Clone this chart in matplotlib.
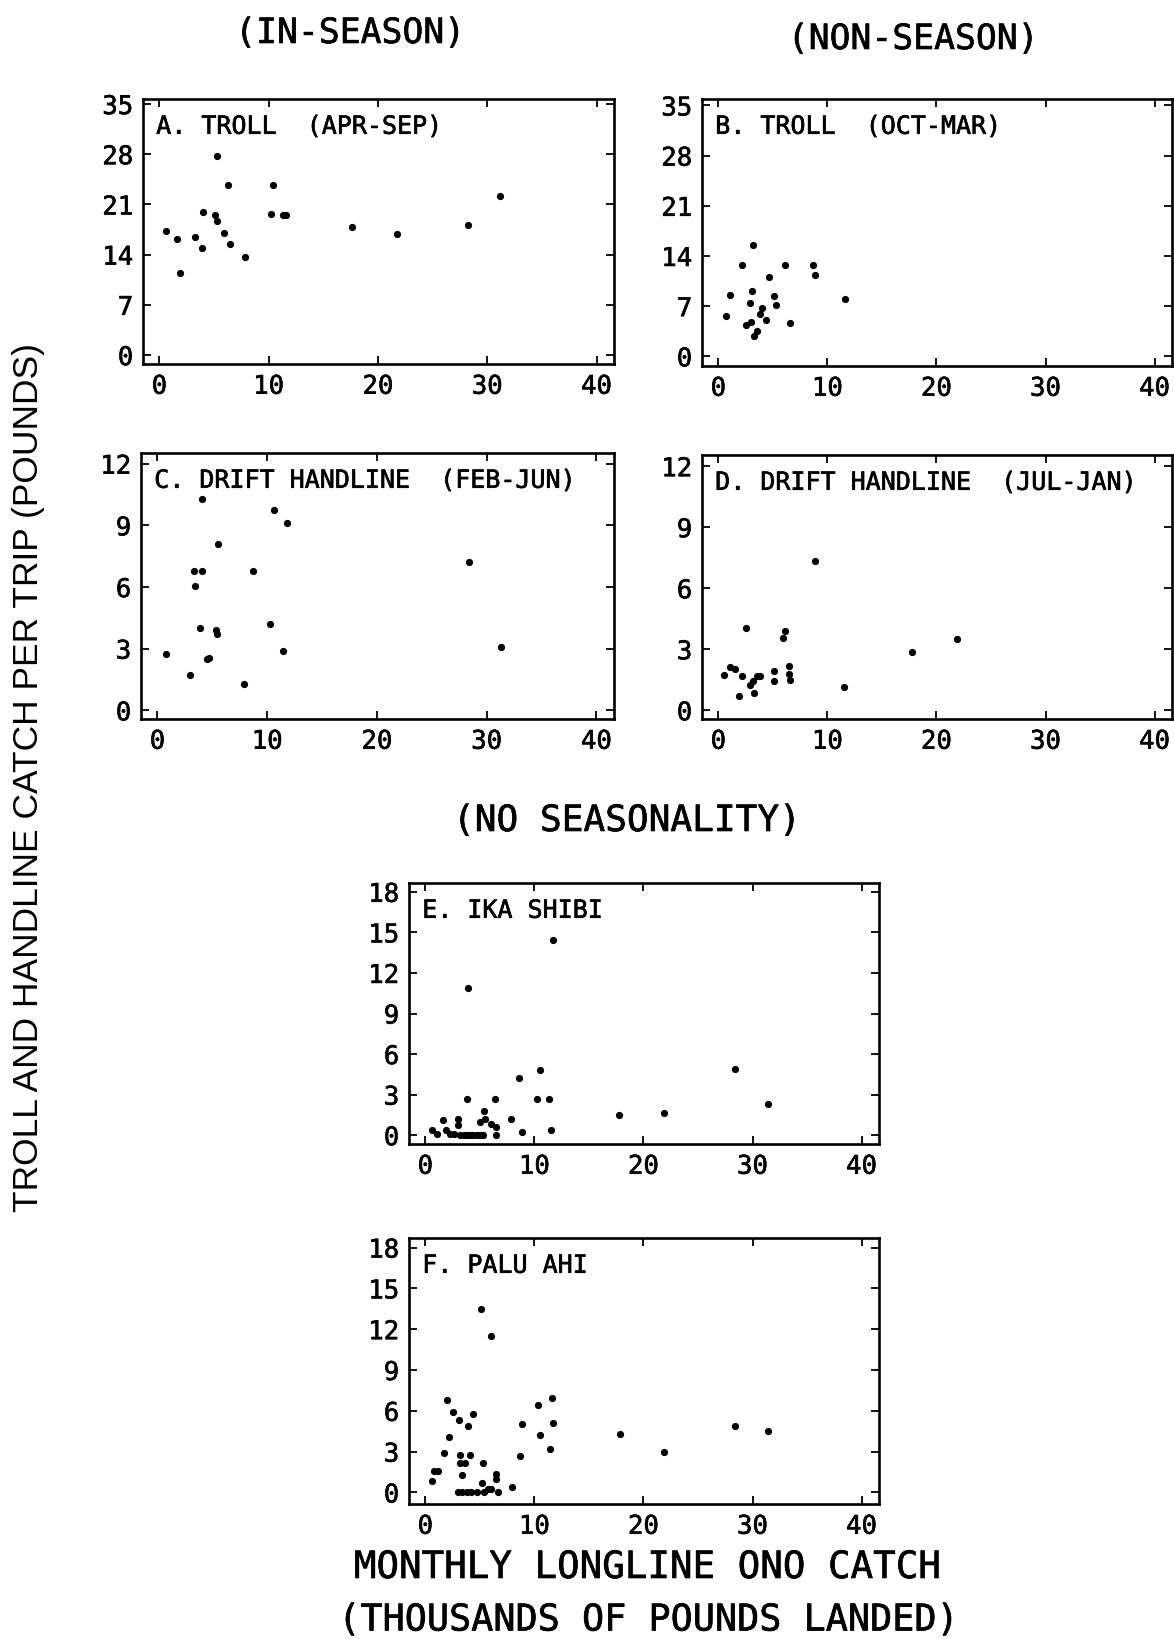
import matplotlib
matplotlib.use("Agg")
import matplotlib.pyplot as plt
import matplotlib.patheffects as pe

# ---------------- data (thousands of lb longline ONO catch, catch per trip lb) ----------------
a_x = [0.6, 1.6, 1.9, 3.3, 3.9, 4.0, 5.1, 5.3, 5.3, 5.9, 6.3, 6.5, 7.8, 10.2, 10.4, 11.3, 11.6, 17.6, 21.7, 28.2, 31.2]
a_y = [17.3, 16.2, 11.5, 16.4, 14.9, 19.9, 19.5, 27.7, 18.7, 17.0, 23.7, 15.5, 13.7, 19.6, 23.7, 19.5, 19.5, 17.9, 16.9, 18.2, 22.2]

b_x = [0.7, 1.1, 2.2, 2.5, 2.9, 3.0, 3.1, 3.2, 3.3, 3.5, 3.8, 4.0, 4.4, 4.6, 5.1, 5.3, 6.1, 6.6, 8.7, 8.9, 11.6]
b_y = [5.6, 8.6, 12.8, 4.4, 7.5, 4.8, 9.1, 15.6, 2.9, 3.6, 5.9, 6.8, 5.0, 11.1, 8.4, 7.1, 12.8, 4.7, 12.8, 11.3, 8.0]

c_x = [0.8, 3.0, 3.3, 3.4, 3.9, 4.1, 4.1, 4.5, 4.7, 5.3, 5.4, 5.5, 7.9, 8.7, 10.3, 10.6, 11.4, 11.8, 28.4, 31.3]
c_y = [2.76, 1.7, 6.8, 6.05, 4.0, 6.8, 10.3, 2.5, 2.53, 3.9, 3.7, 8.1, 1.3, 6.8, 4.2, 9.75, 2.9, 9.1, 7.2, 3.06]

d_x = [0.55, 1.1, 1.5, 1.9, 2.15, 2.5, 2.9, 3.2, 3.3, 3.5, 3.85, 5.1, 5.1, 5.9, 6.1, 6.5, 6.5, 6.6, 8.9, 11.5, 17.8, 21.9]
d_y = [1.73, 2.14, 2.03, 0.69, 1.7, 4.05, 1.24, 1.45, 0.87, 1.7, 1.66, 1.94, 1.45, 3.54, 3.89, 2.16, 1.78, 1.5, 7.35, 1.15, 2.85, 3.48]

e_x = [0.6, 1.1, 1.6, 1.9, 2.3, 2.6, 3.0, 3.0, 3.2, 3.5, 3.8, 4.1, 4.4, 4.7, 5.0, 5.3,
       3.8, 3.9, 5.05, 5.35, 5.45, 6.05, 6.4, 6.5, 6.5, 7.85, 8.6, 8.9, 10.2, 10.5, 11.3,
       11.55, 11.7, 17.8, 21.9, 28.4, 31.4]
e_y = [0.37, 0.12, 1.1, 0.37, 0.12, 0.12, 1.18, 0.73, 0.0, 0.0, 0.0, 0.0, 0.0, 0.0, 0.0, 0.0,
       2.65, 10.85, 0.98, 1.8, 1.2, 0.85, 2.7, 0.0, 0.6, 1.18, 4.24, 0.25, 2.7, 4.8, 2.7,
       0.42, 14.4, 1.52, 1.67, 4.9, 2.33]

f_x = [0.65, 0.75, 1.15, 1.7, 2.0, 2.2, 2.55, 2.95, 3.05, 3.2, 3.2, 3.35, 3.4, 3.6, 3.85, 3.9,
       4.05, 4.2, 4.35, 4.7, 5.1, 5.2, 5.3, 5.35, 5.75, 6.05, 6.05, 6.5, 6.5, 6.65, 7.95,
       8.65, 8.9, 10.3, 10.5, 11.4, 11.6, 11.75, 17.85, 21.9, 28.4, 31.45]
f_y = [0.86, 1.54, 1.6, 2.87, 6.8, 4.1, 5.9, 0.0, 5.35, 2.75, 2.13, 1.3, 0.0, 2.13, 0.0, 4.85,
       2.75, 0.0, 5.8, 0.0, 13.5, 0.66, 2.16, 0.0, 0.25, 11.5, 0.25, 1.35, 1.0, 0.0, 0.42,
       2.65, 5.0, 6.4, 4.24, 3.19, 6.94, 5.07, 4.29, 2.94, 4.85, 4.53]

x_ticks = [0, 10, 20, 30, 40]
y_ticks_troll = [0, 7, 14, 21, 28, 35]
y_ticks_drift = [0, 3, 6, 9, 12]
y_ticks_other = [0, 3, 6, 9, 12, 15, 18]

labels = ["A. TROLL  (APR-SEP)", "B. TROLL  (OCT-MAR)",
          "C. DRIFT HANDLINE  (FEB-JUN)", "D. DRIFT HANDLINE  (JUL-JAN)",
          "E. IKA SHIBI", "F. PALU AHI"]

# ---------------- figure ----------------
W, H = 1174, 1639
fig = plt.figure(figsize=(W / 100, H / 100), dpi=100)
MONO = "DejaVu Sans Mono"
THICK = [pe.withStroke(linewidth=0.45, foreground="black")]

def box(l, r, t, b):
    return [l / W, 1 - b / H, (r - l) / W, (b - t) / H]

panels = [
    (box(143, 614, 99, 364), a_x, a_y, y_ticks_troll, (-1.25, 35.7)),
    (box(702, 1172, 99, 366), b_x, b_y, y_ticks_troll, (-1.35, 35.9)),
    (box(141, 614, 453, 719), c_x, c_y, y_ticks_drift, (-0.42, 12.52)),
    (box(702, 1172, 455, 719), d_x, d_y, y_ticks_drift, (-0.43, 12.55)),
    (box(409, 879, 883, 1144), e_x, e_y, y_ticks_other, (-0.65, 18.65)),
    (box(409, 879, 1238, 1504), f_x, f_y, y_ticks_other, (-0.85, 18.7)),
]

for (rect, xs, ys, yt, yl), lab in zip(panels, labels):
    ax = fig.add_axes(rect)
    ax.plot(xs, ys, linestyle="none", marker="o", markersize=5.2,
            color="black", markeredgewidth=0)
    ax.set_xlim(-1.5, 41.6)
    ax.set_ylim(*yl)
    ax.set_xticks(x_ticks)
    ax.set_yticks(yt)
    ax.tick_params(direction="in", length=6, width=1.3, top=True, right=True,
                   labelsize=18.5, pad=7)
    for t in ax.get_xticklabels() + ax.get_yticklabels():
        t.set_fontfamily(MONO)
        t.set_path_effects(THICK)
    for s in ax.spines.values():
        s.set_linewidth(1.9)
    ax.annotate(lab, xy=(0, 1), xycoords="axes fraction", xytext=(9.5, -20),
                textcoords="offset points", ha="left", va="center",
                fontsize=18, family=MONO, path_effects=THICK)

def ftext(x, y, s, size, **kw):
    fig.text(x / W, 1 - y / H, s, ha="center", va="center", fontsize=size,
             path_effects=THICK, **kw)

ftext(350, 33, "(IN-SEASON)", 25, family=MONO)
ftext(913, 39, "(NON-SEASON)", 25, family=MONO)
ftext(627, 821, "(NO SEASONALITY)", 26, family=MONO)
fig.text(29 / W, 1 - 777 / H, "TROLL AND HANDLINE CATCH PER TRIP (POUNDS)",
         ha="center", va="center", rotation=90, fontsize=25.5,
         family="Liberation Sans")
ftext(648, 1568, "MONTHLY LONGLINE ONO CATCH", 27, family=MONO)
ftext(648, 1620, "(THOUSANDS OF POUNDS LANDED)", 26.5, family=MONO)

fig.savefig("out.png", dpi=100)
